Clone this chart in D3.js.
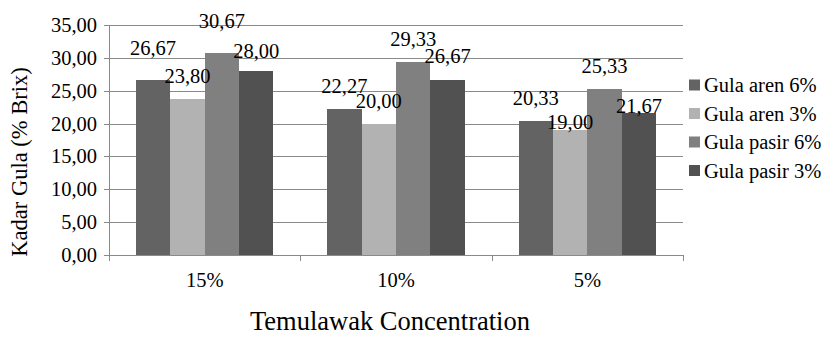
<!DOCTYPE html>
<html>
<head>
<meta charset="utf-8">
<script src="https://cdn.jsdelivr.net/npm/d3@7/dist/d3.min.js"></script>
<style>
  html, body { margin: 0; padding: 0; background: #fff; }
  svg text { fill: #000; }
</style>
</head>
<body>
<svg id="chart" width="824" height="337"></svg>
<script>
// ---- data ----
const categories = ["15%", "10%", "5%"];
const seriesNames = ["Gula aren 6%", "Gula aren 3%", "Gula pasir 6%", "Gula pasir 3%"];
const gulaAren6 = [26.67, 22.27, 20.33];
const gulaAren3 = [23.80, 20.00, 19.00];
const gulaPasir6 = [30.67, 29.33, 25.33];
const gulaPasir3 = [28.00, 26.67, 21.67];
const yTicks = [0, 5, 10, 15, 20, 25, 30, 35];
const xTitle = "Temulawak Concentration";
const yTitle = "Kadar Gula (% Brix)";

// ---- layout / style (not data) ----
const FONT = "'Liberation Serif', Tinos, 'Times New Roman', Times, 'Nimbus Roman', 'DejaVu Serif', serif";
const colors = ["#636363", "#b2b2b2", "#808080", "#515151"];
// extra lift (px) of each data label over the default gap, [series][category]
const labelLift = [[9, 0, 0], [0, 0, -15], [9, 0, 0], [-3, 1, -16]];

const seriesValues = [gulaAren6, gulaAren3, gulaPasir6, gulaPasir3];
const svg = d3.select("#chart");
const M = { left: 109, right: 683, top: 25, bottom: 255 };

const x0 = d3.scaleBand().domain(categories).range([M.left, M.right]).paddingInner(0).paddingOuter(0);
const x1 = d3.scaleBand().domain(seriesNames).range([0, x0.bandwidth()]).paddingInner(0).paddingOuter(0.78);
const y = d3.scaleLinear().domain([0, 35]).range([M.bottom, M.top]);
const fmt = v => d3.format(".2f")(v).replace(".", ",");

// gridlines + y axis
const yAxis = d3.axisLeft(y).tickValues(yTicks).tickSize(-(M.right - M.left)).tickSizeOuter(0).tickFormat(fmt).tickPadding(12);
const gy = svg.append("g").attr("transform", `translate(${M.left},0)`).call(yAxis)
  .attr("font-family", null).attr("font-size", null);
gy.select(".domain").attr("stroke", "#8a8a8a").attr("shape-rendering", "crispEdges");
gy.selectAll(".tick line").attr("stroke", "#8a8a8a").attr("x1", -5).attr("shape-rendering", "crispEdges");
gy.selectAll(".tick text").style("font-size", "20.5px").style("font-family", FONT);

// bars
const groups = svg.append("g").selectAll("g").data(categories).join("g")
  .attr("transform", d => `translate(${x0(d)},0)`);
groups.selectAll("rect").data((c, ci) => seriesNames.map((s, si) => ({ s, si, v: seriesValues[si][ci], ci })))
  .join("rect")
  .attr("x", d => x1(d.s)).attr("width", x1.bandwidth())
  .attr("y", d => y(d.v)).attr("height", d => y(0) - y(d.v))
  .attr("fill", d => colors[d.si]).attr("shape-rendering", "crispEdges");

// x axis line and ticks
const xAxisG = svg.append("g").attr("transform", `translate(0,${M.bottom})`);
xAxisG.append("line").attr("x1", M.left).attr("x2", M.right).attr("y1", 0.5).attr("y2", 0.5).attr("stroke", "#8a8a8a");
const bounds = categories.map(c => x0(c)).concat([M.right]);
xAxisG.selectAll("line.tk").data(bounds).join("line").attr("class", "tk")
  .attr("x1", d => Math.round(d) + 0.5).attr("x2", d => Math.round(d) + 0.5)
  .attr("y1", 0).attr("y2", 6).attr("stroke", "#8a8a8a");
xAxisG.selectAll("text").data(categories).join("text")
  .attr("x", d => x0(d) + x0.bandwidth() / 2).attr("y", 32)
  .attr("text-anchor", "middle").style("font-size", "20.5px").style("font-family", FONT).text(d => d);

// data labels
groups.selectAll("text.lbl").data((c, ci) => seriesNames.map((s, si) => ({ s, si, v: seriesValues[si][ci], ci })))
  .join("text").attr("class", "lbl")
  .attr("x", d => x1(d.s) + x1.bandwidth() / 2)
  .attr("y", d => y(d.v) - 16 - labelLift[d.si][d.ci])
  .attr("text-anchor", "middle").style("font-size", "20.5px").style("font-family", FONT)
  .text(d => fmt(d.v));

// axis titles
svg.append("text").attr("transform", "translate(27,162) rotate(-90)")
  .attr("text-anchor", "middle").style("font-size", "22.5px").style("font-family", FONT).text(yTitle);
svg.append("text").attr("x", 390).attr("y", 330)
  .attr("text-anchor", "middle").style("font-size", "26.5px").style("font-family", FONT).text(xTitle);

// legend
const leg = svg.append("g").attr("transform", "translate(689,85)");
const li = leg.selectAll("g").data(seriesNames).join("g").attr("transform", (d, i) => `translate(0,${i * 28.5})`);
li.append("rect").attr("x", 0).attr("y", -5.5).attr("width", 11).attr("height", 11).attr("fill", (d, i) => colors[i]);
li.append("text").attr("x", 15).attr("y", 7).style("font-size", "20.5px").style("font-family", FONT).text(d => d);
</script>
</body>
</html>
